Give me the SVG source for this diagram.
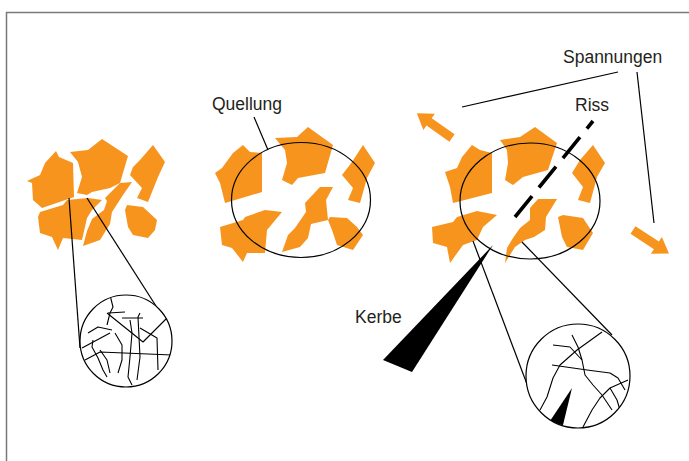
<svg xmlns="http://www.w3.org/2000/svg" width="689" height="461" viewBox="0 0 689 461">
  <style>
    .grain { fill: #f7941e; }
    .thin { fill: none; stroke: #000; stroke-width: 1.2; }
    .fibre { fill: none; stroke: #000; stroke-width: 1.1; stroke-linejoin: round; }
    .lbl { font-family: "Liberation Sans", Arial, sans-serif; font-size: 17.5px; fill: #231f20; }
  </style>
  <defs>
    <clipPath id="lensA"><circle cx="126" cy="341" r="46"/></clipPath>
    <clipPath id="lensB"><circle cx="578" cy="376" r="52"/></clipPath>
    <polygon id="arrow" class="grain" points="0,-4.5 28,-4.5 28,-10 43,0 28,10 28,4.5 0,4.5"/>
  </defs>

  <rect width="689" height="461" fill="#fff"/>
  <!-- frame -->
  <path d="M6.5,461 V12.5 H689" fill="none" stroke="#7a7a7a" stroke-width="1.5"/>

  <!-- dry aggregate -->
  <g id="grains-dry">
    <polygon class="grain" points="27,181 40,175 45,163 56,151 59,157 73,163 74,197 42,208 33,200 32,183"/>
    <polygon class="grain" points="70,152 88,150 102,139 128,156 120,183 110,188 92,192 87,195 77,193 82,177 78,162"/>
    <polygon class="grain" points="153,145 165,162 158,177 148,202 137,198 142,188 130,175 133,167 140,160"/>
    <polygon class="grain" points="40,212 63,205 67,200 88,198 102,200 92,210 87,218 82,240 63,238 58,250 52,237 40,233 38,217"/>
    <polygon class="grain" points="105,198 120,183 132,182 123,195 112,212 110,224 100,240 83,246 87,231 92,219 104,210 107,201"/>
    <polygon class="grain" points="127,205 143,207 157,220 155,230 148,238 133,235 128,227 125,210"/>
  </g>

  <!-- swollen aggregate -->
  <g id="grains-swollen">
    <polygon class="grain" points="215,173 222,168 233,153 243,145 250,152 262,153 262,192 225,203 220,183"/>
    <polygon class="grain" points="275,138 297,137 308,127 333,145 325,173 298,178 292,185 282,180 287,163 285,150"/>
    <polygon class="grain" points="363,145 375,163 367,178 360,203 348,200 353,188 342,175 352,162"/>
    <polygon class="grain" points="220,227 243,220 245,217 265,210 282,212 267,230 265,253 247,253 243,262 232,248 222,245"/>
    <polygon class="grain" points="320,187 333,187 326,200 328,220 311,224 308,238 300,247 282,252 288,235 295,228 306,212 305,203"/>
    <polygon class="grain" points="330,217 347,218 357,227 363,235 353,250 337,245 332,230 328,220"/>
    <ellipse class="thin" cx="301" cy="200" rx="69.5" ry="57.5"/>
  </g>

  <!-- cracked aggregate -->
  <g id="grains-cracked">
    <polygon class="grain" points="445,172 457,168 462,157 472,145 480,150 492,153 492,193 453,203 450,187"/>
    <polygon class="grain" points="500,140 520,137 535,127 557,143 548,170 523,177 513,185 505,180 508,163 507,150"/>
    <polygon class="grain" points="593,145 605,163 597,177 590,203 578,200 583,187 572,173 580,160"/>
    <polygon class="grain" points="432,227 453,222 457,217 477,211 497,215 483,227 477,240 463,245 450,263 447,247 433,243"/>
    <polygon class="grain" points="538,199 557,199 546,217 545,230 534,237 525,240 515,247 505,263 507,248 513,238 520,228 530,220 530,208"/>
    <polygon class="grain" points="558,217 563,215 583,218 593,233 583,250 567,247 562,237"/>
    <ellipse class="thin" cx="530" cy="201" rx="70" ry="58"/>
  </g>

  <!-- crack -->
  <g id="crack">
    <line x1="515" y1="217" x2="593" y2="121" stroke="#000" stroke-width="3.6" stroke-dasharray="27 11"/>
  </g>

  <!-- notch -->
  <g id="notch">
    <polygon points="493,245 383,360 412,372" fill="#000"/>
  </g>

  <!-- tension arrows -->
  <g id="tension">
    <use href="#arrow" transform="translate(452,138) rotate(215.2)"/>
    <use href="#arrow" transform="translate(633,230) rotate(33.3)"/>
  </g>

  <!-- connectors -->
  <g id="connectors" class="thin">
    <line x1="69" y1="198" x2="80" y2="348"/>
    <line x1="87" y1="198" x2="163" y2="317"/>
    <line x1="473" y1="241" x2="533" y2="400"/>
    <line x1="522" y1="242" x2="612" y2="335"/>
    <line x1="254" y1="117" x2="268" y2="150"/>
    <line x1="618" y1="72" x2="462" y2="107"/>
    <line x1="637" y1="72" x2="654" y2="223"/>
  </g>

  <!-- fibre detail, dry -->
  <g id="lens-dry">
    <circle cx="126" cy="341" r="46" fill="#fff"/>
    <g clip-path="url(#lensA)" class="fibre">
      <polyline points="110,295 113,307 110,313 107,325"/>
      <polyline points="108,313 125,312"/>
      <polyline points="107,313 143,342 167,318"/>
      <polyline points="82,348 110,333"/>
      <polyline points="85,360 100,352 172,355"/>
      <polyline points="88,333 98,327 112,330"/>
      <polyline points="93,340 92,347 98,358 103,370 107,377"/>
      <polyline points="100,350 107,360 110,373"/>
      <polyline points="115,333 122,345 122,360 118,373"/>
      <polyline points="130,320 132,333 130,357 128,377 132,385"/>
      <polyline points="140,313 138,317 140,357 137,380"/>
      <polyline points="140,328 157,338 158,370"/>
      <polyline points="122,318 143,318"/>
    </g>
    <circle class="thin" cx="126" cy="341" r="46"/>
  </g>

  <!-- fibre detail, cracked -->
  <g id="lens-cracked">
    <circle cx="578" cy="376" r="52" fill="#fff"/>
    <g clip-path="url(#lensB)" class="fibre">
      <polyline points="553,345 570,347 582,360 585,375 593,385 602,395 612,410"/>
      <polyline points="572,335 578,347 582,360"/>
      <polyline points="602,332 577,350 560,365 553,378 547,397 540,410"/>
      <polyline points="552,365 587,370 610,373 618,378 625,390"/>
      <polyline points="628,380 610,388 600,398 592,410 583,427"/>
      <polyline points="610,388 617,400 620,410"/>
      <polygon points="572,388 548,424 563,425" fill="#000" stroke="none"/>
    </g>
    <circle class="thin" cx="578" cy="376" r="52"/>
  </g>

  <!-- labels -->
  <g id="labels">
    <text class="lbl" x="212" y="110">Quellung</text>
    <text class="lbl" x="563" y="63">Spannungen</text>
    <text class="lbl" x="575" y="111">Riss</text>
    <text class="lbl" x="355" y="323">Kerbe</text>
  </g>
</svg>
